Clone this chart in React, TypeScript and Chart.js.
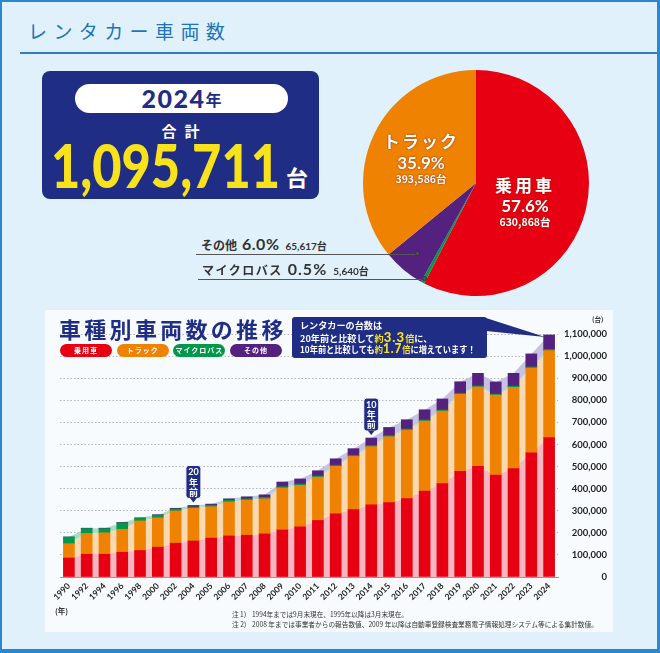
import React, { useEffect, useLayoutEffect, useRef } from "react";
import { Chart, registerables } from "chart.js";
Chart.register(...registerables);

// ---------- DATA ----------
const years = ["1990","1992","1994","1996","1998","2000","2002","2004","2005","2006","2007","2008","2009","2010","2011","2012","2013","2014","2015","2016","2017","2018","2019","2020","2021","2022","2023","2024"];
const passenger = [86000,103000,103000,112000,120000,135000,153000,163000,176000,186000,189000,195000,213000,227000,256000,286000,305000,327000,337000,355000,389000,423000,478000,501000,461000,491000,562000,630868];
const truck = [65000,94000,97000,104000,134000,133000,146000,148000,142000,154000,159000,159000,190000,188000,196000,215000,241000,263000,298000,310000,317000,328000,349000,359000,362000,368000,384000,393586];
const microbus = [30000,22000,19000,29000,12000,12000,9000,6000,7000,8000,6000,6000,6000,6000,5000,5000,5000,5000,5000,5000,5000,5000,5000,5000,5000,5000,5000,5640];
const other = [0,2000,2000,2000,2000,2000,3000,7000,5000,6000,9000,12000,21000,23000,24000,29000,30000,34000,37000,42000,46000,50000,52000,57000,55000,58000,59000,65617];
const seriesNames = ["乗用車","トラック","マイクロバス","その他"];
const yTicksMax = 1100000;
const yTickStep = 100000;
const tagYears = ["2004","2014"];
const tagTexts = ["20","10"];

const pieLabels = ["乗用車","マイクロバス","その他","トラック"];
const pieValues = [630868, 5640, 65617, 393586];
const pieShares = ["57.6%","0.5%","6.0%","35.9%"];
const pieCounts = ["630,868台","5,640台","65,617台","393,586台"];
const total2024 = "1,095,711";

// ---------- STYLE ----------
const NAVY = "#1f2d85";
const RED = "#e60012";
const ORANGE = "#ef8200";
const GREEN = "#00984a";
const PURPLE = "#55217f";
const PINK = "#f5b6c2";
const PEACH = "#fad8b0";
const MINT = "#a4dec3";
const LAVENDER = "#c8c2e2";
const JP = "'Noto Sans CJK JP', 'Noto Sans', sans-serif";
const NUM = "Lato, 'Noto Sans CJK JP', sans-serif";

const PANEL = { left: 45, top: 310, width: 568, height: 322 };
const CALLOUT = { left: 292, top: 317, width: 195, height: 41 };

function Fit({ width, style, children }: any) {
  const ref = useRef<HTMLSpanElement>(null);
  useLayoutEffect(() => {
    const el = ref.current;
    if (!el) return;
    el.style.transform = "none";
    const w = el.offsetWidth;
    if (w > 0) el.style.transform = `scaleX(${width / w})`;
  });
  return (
    <span ref={ref} style={{ display: "inline-block", whiteSpace: "nowrap", transformOrigin: "left center", ...style }}>
      {children}
    </span>
  );
}

const abs = (s: any) => ({ position: "absolute", ...s });

export default function App() {
  const barRef = useRef<HTMLCanvasElement>(null);
  const pieRef = useRef<HTMLCanvasElement>(null);

  useEffect(() => {
    const totals = years.map((_, i) => passenger[i] + truck[i] + microbus[i] + other[i]);
    const annot = {
      id: "annot",
      afterDatasetsDraw(chart: any) {
        const ctx = chart.ctx;
        const xs = chart.scales.x;
        const ys = chart.scales.y;
        ctx.save();
        // callout pointer to latest bar
        const li = years.length - 1;
        const tx = xs.getPixelForValue(li) - 4;
        const ty = ys.getPixelForValue(totals[li]) + 2;
        const bx = CALLOUT.left + CALLOUT.width - PANEL.left - 1;
        const by = CALLOUT.top - PANEL.top;
        ctx.fillStyle = NAVY;
        ctx.beginPath();
        ctx.moveTo(bx, by + 1);
        ctx.lineTo(tx, ty);
        ctx.lineTo(bx, by + 14);
        ctx.closePath();
        ctx.fill();
        // tags
        tagYears.forEach((yr, k) => {
          const i = years.indexOf(yr);
          const x = xs.getPixelForValue(i);
          const yTop = ys.getPixelForValue(totals[i]);
          const w = 15, h = 33;
          const bottom = yTop - 7;
          const top = bottom - h;
          const left = x - w / 2;
          ctx.fillStyle = NAVY;
          ctx.strokeStyle = "#ffffff";
          ctx.lineWidth = 1;
          ctx.beginPath();
          ctx.roundRect(left, top, w, h, 3);
          ctx.fill();
          ctx.stroke();
          ctx.beginPath();
          ctx.moveTo(x - 3.5, bottom - 0.5);
          ctx.lineTo(x + 3.5, bottom - 0.5);
          ctx.lineTo(x, bottom + 4);
          ctx.closePath();
          ctx.fill();
          ctx.fillStyle = "#ffffff";
          ctx.textAlign = "center";
          ctx.textBaseline = "middle";
          ctx.font = "bold 9px Lato";
          ctx.fillText(tagTexts[k], x, top + 7);
          ctx.font = "bold 9px 'Noto Sans CJK JP'";
          ctx.fillText("年", x, top + 17);
          ctx.fillText("前", x, top + 27);
        });
        ctx.restore();
      },
    };

    const barDs = (data: number[], color: string) => ({
      type: "bar", data, backgroundColor: color, barThickness: 11, stack: "bars", order: 1,
    });
    const areaDs = (data: number[], color: string, fill: any) => ({
      type: "line", data, backgroundColor: color, borderColor: "transparent", borderWidth: 0,
      pointRadius: 0, fill, tension: 0, stack: "areas", order: 2,
    });

    const bar = new Chart(barRef.current!, {
      type: "bar",
      data: {
        labels: years,
        datasets: [
          { label: seriesNames[0], ...barDs(passenger, RED) },
          { label: seriesNames[1], ...barDs(truck, ORANGE) },
          { label: seriesNames[2], ...barDs(microbus, GREEN) },
          { label: seriesNames[3], ...barDs(other, PURPLE) },
          areaDs(passenger, PINK, "origin"),
          areaDs(truck, PEACH, "-1"),
          areaDs(microbus, MINT, "-1"),
          areaDs(other, LAVENDER, "-1"),
        ] as any,
      },
      options: {
        responsive: false,
        animation: false,
        layout: { padding: { left: 15, top: 24, right: 6, bottom: 0 } },
        plugins: { legend: { display: false }, tooltip: { enabled: false } },
        scales: {
          x: {
            stacked: true,
            grid: { display: false, drawTicks: false },
            border: { display: true, color: "#9a9a9a", width: 1 },
            ticks: {
              autoSkip: false, maxRotation: 45, minRotation: 45, padding: 4,
              color: "#222", font: { family: "Lato", weight: "bold", size: 8.5 },
            },
            afterFit(s: any) { s.height = 55; s.paddingLeft = 0; s.paddingRight = 0; },
          },
          y: {
            stacked: true,
            position: "right",
            min: 0,
            max: yTicksMax,
            grid: { color: "#b4b4b4", drawTicks: false, lineWidth: 1 },
            border: { display: false, dash: [1.5, 2] },
            ticks: {
              stepSize: yTickStep, crossAlign: "far", padding: 6, color: "#222",
              font: { family: "Lato", weight: "bold", size: 9.5 },
              callback: (v: any) => Number(v).toLocaleString("en-US"),
            },
            afterFit(s: any) { s.width = 49; s.paddingTop = 0; s.paddingBottom = 0; },
          },
        },
      } as any,
      plugins: [annot],
    });

    const pie = new Chart(pieRef.current!, {
      type: "pie",
      data: {
        labels: pieLabels,
        datasets: [{ data: pieValues, backgroundColor: [RED, GREEN, PURPLE, ORANGE], borderWidth: 0 }],
      },
      options: {
        responsive: false,
        animation: false,
        rotation: 0,
        layout: { padding: 0 },
        plugins: { legend: { display: false }, tooltip: { enabled: false } },
      } as any,
    });

    return () => { bar.destroy(); pie.destroy(); };
  }, []);

  const pieText = { color: "#fff", fontWeight: 700, textAlign: "center", textShadow: "0 0 2px rgba(140,30,0,0.7), 0 0 1px rgba(140,30,0,0.7)", whiteSpace: "nowrap" };
  const legendColors = [RED, ORANGE, GREEN, PURPLE];
  const yel = { color: "#f7e21b" };
  const bigNum = { fontFamily: NUM, fontSize: 13, fontWeight: 900, letterSpacing: 1 };

  return (
    <div style={{ position: "absolute", left: 0, top: 0, width: 660, height: 653, background: "#e0f1fb", boxSizing: "border-box", borderStyle: "solid", borderColor: "#2a88cf", borderWidth: "2px 3px 4px 2px", fontFamily: JP, overflow: "hidden" }}>
      <div style={{ position: "absolute", left: -2, top: -2, width: 660, height: 653 }}>
        {/* title */}
        <div style={abs({ left: 28, top: 18, fontSize: 19, letterSpacing: 6.4, color: "#1c74ba", lineHeight: "26px", fontWeight: 400, whiteSpace: "nowrap" })}>レンタカー車両数</div>
        <div style={abs({ left: 20, top: 52, width: 640, height: 2, background: "#2e80c3" })} />

        {/* total box */}
        <div style={abs({ left: 42, top: 71, width: 277, height: 128, background: NAVY, borderRadius: 8 })} />
        <div style={abs({ left: 75, top: 84, width: 213, height: 29, background: "#fff", borderRadius: 15, display: "flex", alignItems: "center", justifyContent: "center", color: NAVY })}>
          <span style={{ fontFamily: NUM, fontSize: 25, fontWeight: 900, letterSpacing: 1.5, lineHeight: "29px" }}>2024</span>
          <span style={{ fontSize: 16, fontWeight: 700, lineHeight: "29px", marginTop: 2 }}>年</span>
        </div>
        <div style={abs({ left: 42, width: 277, top: 121, textAlign: "center", color: "#fff", fontSize: 15, fontWeight: 700, letterSpacing: 8, lineHeight: "20px", paddingLeft: 8, boxSizing: "border-box" })}>合計</div>
        <div style={abs({ left: 51, top: 135, lineHeight: "60px", height: 60 })}>
          <Fit width={229} style={{ fontFamily: NUM, fontSize: 60, fontWeight: 900, color: "#f7e21b", lineHeight: "60px" }}>{total2024}</Fit>
        </div>
        <div style={abs({ left: 286, top: 162, fontSize: 22, fontWeight: 700, color: "#fff", lineHeight: "28px" })}>台</div>

        {/* pie */}
        <canvas ref={pieRef} width={226} height={226} style={abs({ left: 363, top: 70, width: 226, height: 226 })} />
        <div style={abs({ left: 371, width: 100, top: 130, ...pieText, fontSize: 17, letterSpacing: 2, lineHeight: "22px" })}>{pieLabels[3]}</div>
        <div style={abs({ left: 371, width: 100, top: 153, ...pieText, fontFamily: NUM, fontSize: 17, lineHeight: "20px" })}>{pieShares[3]}</div>
        <div style={abs({ left: 371, width: 100, top: 172, ...pieText, fontSize: 10.5, lineHeight: "14px" })}>{pieCounts[3]}</div>
        <div style={abs({ left: 475, width: 100, top: 174, ...pieText, fontSize: 17, letterSpacing: 3, lineHeight: "22px" })}>{pieLabels[0]}</div>
        <div style={abs({ left: 475, width: 100, top: 196, ...pieText, fontFamily: NUM, fontSize: 17, lineHeight: "20px" })}>{pieShares[0]}</div>
        <div style={abs({ left: 475, width: 100, top: 215, ...pieText, fontSize: 10.5, lineHeight: "14px" })}>{pieCounts[0]}</div>

        {/* pie side labels */}
        <div style={abs({ left: 201, top: 234, display: "flex", alignItems: "baseline", color: "#333", fontWeight: 700, whiteSpace: "nowrap", lineHeight: "20px" })}>
          <span style={{ fontSize: 12 }}>{pieLabels[2]}</span>
          <span style={{ fontFamily: NUM, fontSize: 16, marginLeft: 5, letterSpacing: 0.5 }}>{pieShares[2]}</span>
          <span style={{ fontFamily: NUM, fontSize: 10, marginLeft: 6 }}>{pieCounts[2]}</span>
        </div>
        <div style={abs({ left: 196, top: 254, width: 222, height: 1, background: "#555" })} />
        <div style={abs({ left: 415, top: 251, width: 5, height: 5, borderRadius: 3, background: "#555", border: "1px solid #333", boxSizing: "border-box" })} />
        <div style={abs({ left: 202, top: 259, display: "flex", alignItems: "baseline", color: "#333", fontWeight: 700, whiteSpace: "nowrap", lineHeight: "20px" })}>
          <span style={{ fontSize: 12, letterSpacing: 1.5 }}>{pieLabels[1]}</span>
          <span style={{ fontFamily: NUM, fontSize: 16, marginLeft: 5, letterSpacing: 1 }}>{pieShares[1]}</span>
          <span style={{ fontFamily: NUM, fontSize: 10, marginLeft: 6 }}>{pieCounts[1]}</span>
        </div>
        <div style={abs({ left: 198, top: 279, width: 227, height: 1, background: "#555" })} />
        <div style={abs({ left: 422, top: 276, width: 5, height: 5, borderRadius: 3, background: "#555", border: "1px solid #333", boxSizing: "border-box" })} />

        {/* bar panel */}
        <div style={abs({ left: PANEL.left, top: PANEL.top, width: PANEL.width, height: PANEL.height, background: "#f7fbfe" })} />
        <canvas ref={barRef} width={PANEL.width} height={PANEL.height} style={abs({ left: PANEL.left, top: PANEL.top, width: PANEL.width, height: PANEL.height })} />

        <div style={abs({ left: 59, top: 315, fontSize: 22, fontWeight: 700, color: NAVY, letterSpacing: 3.3, lineHeight: "26px", whiteSpace: "nowrap" })}>車種別車両数の推移</div>
        {seriesNames.map((t, i) => (
          <div key={t} style={abs({ left: 60 + i * 56.7, top: 344, width: 52, height: 13, borderRadius: 7, background: legendColors[i], color: "#fff", fontSize: 7, fontWeight: 700, display: "flex", alignItems: "center", justifyContent: "center", letterSpacing: 1, lineHeight: "13px" })}>{t}</div>
        ))}

        <div style={abs({ left: CALLOUT.left, top: CALLOUT.top, width: CALLOUT.width, height: CALLOUT.height, background: NAVY, borderRadius: 3, color: "#fff", fontSize: 9, fontWeight: 700, lineHeight: "11.5px", padding: "3px 0 0 8px", boxSizing: "border-box", whiteSpace: "nowrap" })}>
          <div style={{ height: 11.5 }}><Fit width={82}>レンタカーの台数は</Fit></div>
          <div style={{ height: 11.5 }}><Fit width={132}>20年前と比較して<span style={yel}>約<span style={bigNum}>3.3</span>倍</span>に、</Fit></div>
          <div style={{ height: 11.5 }}><Fit width={176}>10年前と比較しても<span style={yel}>約<span style={bigNum}>1.7</span>倍</span>に増えています！</Fit></div>
        </div>

        <div style={abs({ left: 592, top: 315, fontSize: 6.5, fontWeight: 700, color: "#333", lineHeight: "9px" })}>(台)</div>
        <div style={abs({ left: 55, top: 606, fontSize: 7.5, fontWeight: 700, color: "#333", lineHeight: "10px" })}>(年)</div>
        <div style={abs({ left: 232, top: 605, lineHeight: "10px", color: "#333" })}>
          <Fit width={176} style={{ fontSize: 7, lineHeight: "10px" }}>注 1） 1994年までは9月末現在、1995年以降は3月末現在。</Fit>
        </div>
        <div style={abs({ left: 232, top: 615, lineHeight: "10px", color: "#333" })}>
          <Fit width={366} style={{ fontSize: 7, lineHeight: "10px" }}>注 2） 2008 年までは事業者からの報告数値、2009 年以降は自動車登録検査業務電子情報処理システム等による集計数値。</Fit>
        </div>
      </div>
    </div>
  );
}
